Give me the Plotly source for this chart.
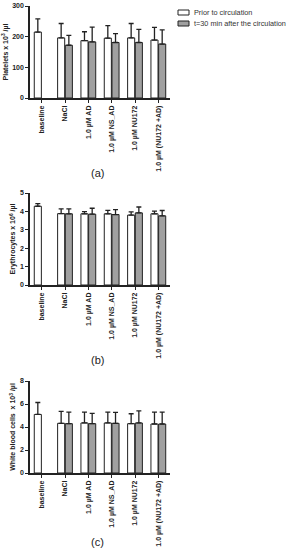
import plotly.graph_objects as go

categories = ["baseline", "NaCl", "1.0 µM AD", "1.0 µM NS_AD", "1.0 µM NU172", "1.0 µM (NU172 +AD)"]
series_names = ["Prior to circulation", "t=30 min after the circulation"]
series_colors = ["white", "#a0a0a0"]

# Platelets x10^3/µl
plt_prior = [215, 196, 187, 195, 196, 189]
plt_prior_err = [43, 47, 29, 41, 47, 41]
plt_after = [None, 172, 183, 181, 181, 176]
plt_after_err = [0, 32, 48, 29, 43, 46]

# Erythrocytes x10^6/µl
ery_prior = [4.28, 3.88, 3.87, 3.87, 3.80, 3.87]
ery_prior_err = [0.14, 0.26, 0.12, 0.19, 0.17, 0.14]
ery_after = [None, 3.87, 3.85, 3.83, 3.92, 3.76]
ery_after_err = [0, 0.27, 0.32, 0.27, 0.32, 0.29]

# White blood cells x10^3/µl
wbc_prior = [5.09, 4.32, 4.35, 4.35, 4.29, 4.26]
wbc_prior_err = [1.04, 1.03, 0.95, 0.95, 0.86, 1.04]
wbc_after = [None, 4.29, 4.29, 4.32, 4.35, 4.26]
wbc_after_err = [0, 1.01, 0.89, 0.95, 1.06, 1.04]

panels = [
    dict(prior=plt_prior, perr=plt_prior_err, after=plt_after, aerr=plt_after_err,
         title="Platelets x 10<sup>3</sup> /µl", rng=[0, 300], dtick=100, label="(a)"),
    dict(prior=ery_prior, perr=ery_prior_err, after=ery_after, aerr=ery_after_err,
         title="Erythrocytes x 10<sup>6</sup> /µl", rng=[0, 5], dtick=1, label="(b)"),
    dict(prior=wbc_prior, perr=wbc_prior_err, after=wbc_after, aerr=wbc_after_err,
         title="White blood cells  x 10<sup>3</sup> /µl", rng=[0, 8], dtick=2, label="(c)"),
]

W, H = 293, 550
xdom = [30 / W, 170 / W]
ydoms = [[1 - 98 / H, 1 - 6 / H], [1 - 285 / H, 1 - 193 / H], [1 - 473 / H, 1 - 381 / H]]
label_y = [173, 360, 542]
FONT = "Liberation Sans, Arial, sans-serif"
INK = "#222"

fig = go.Figure()
layout = dict(
    width=W, height=H, margin=dict(l=0, r=0, t=0, b=0, autoexpand=False),
    paper_bgcolor="white", plot_bgcolor="white",
    barmode="group", bargap=0.34, bargroupgap=0.08,
    font=dict(family=FONT, color=INK),
    showlegend=False,
    annotations=[], shapes=[],
)

for i, p in enumerate(panels):
    xa = "x" if i == 0 else f"x{i+1}"
    ya = "y" if i == 0 else f"y{i+1}"
    for s, (vals, errs) in enumerate([(p["prior"], p["perr"]), (p["after"], p["aerr"])]):
        fig.add_trace(go.Bar(
            x=categories, y=vals, name=series_names[s], xaxis=xa, yaxis=ya,
            marker=dict(color=series_colors[s], line=dict(color=INK, width=1)),
            error_y=dict(type="data", array=errs, arrayminus=[0] * len(errs), symmetric=False,
                         color=INK, thickness=1.3, width=2.5),
        ))
    axkey_x = "xaxis" if i == 0 else f"xaxis{i+1}"
    axkey_y = "yaxis" if i == 0 else f"yaxis{i+1}"
    layout[axkey_x] = dict(domain=xdom, anchor=ya, showline=True, linecolor=INK, linewidth=1.5,
                           ticks="outside", ticklen=3, tickcolor=INK, tickwidth=1, automargin=False,
                           tickangle=-90, tickfont=dict(size=7, color=INK, family=FONT, weight="bold"),
                           showgrid=False, zeroline=False, categoryorder="array", categoryarray=categories)
    layout[axkey_y] = dict(domain=ydoms[i], anchor=xa, range=p["rng"], dtick=p["dtick"],
                           showline=True, linecolor=INK, linewidth=1.5, automargin=False,
                           ticks="outside", ticklen=3, tickcolor=INK, tickwidth=1,
                           tickfont=dict(size=7, color=INK, family=FONT, weight="bold"),
                           showgrid=False, zeroline=False,
                           title=dict(text=p["title"], font=dict(size=7, color=INK, family=FONT, weight="bold"), standoff=3))
    layout["annotations"].append(dict(text=p["label"], x=97 / W, y=1 - label_y[i] / H, xref="paper", yref="paper",
                                      showarrow=False, font=dict(size=11, color=INK, family=FONT),
                                      xanchor="center", yanchor="middle"))

# manual legend (swatch + label)
leg_y = [12.5, 23.5]
for s in range(2):
    yc = leg_y[s]
    layout["shapes"].append(dict(type="rect", xref="paper", yref="paper",
                                 x0=178 / W, x1=189 / W, y0=1 - (yc + 2.5) / H, y1=1 - (yc - 2.5) / H,
                                 fillcolor=series_colors[s], line=dict(color=INK, width=1)))
    layout["annotations"].append(dict(text=series_names[s], x=192 / W, y=1 - yc / H, xref="paper", yref="paper",
                                      showarrow=False, xanchor="left", yanchor="middle",
                                      font=dict(size=7.3, color="#333", family=FONT)))

fig.update_layout(**layout)
fig.write_html("out.html", config={"displayModeBar": False},
               post_script="document.body.style.margin='0px';document.body.style.padding='0px';")
